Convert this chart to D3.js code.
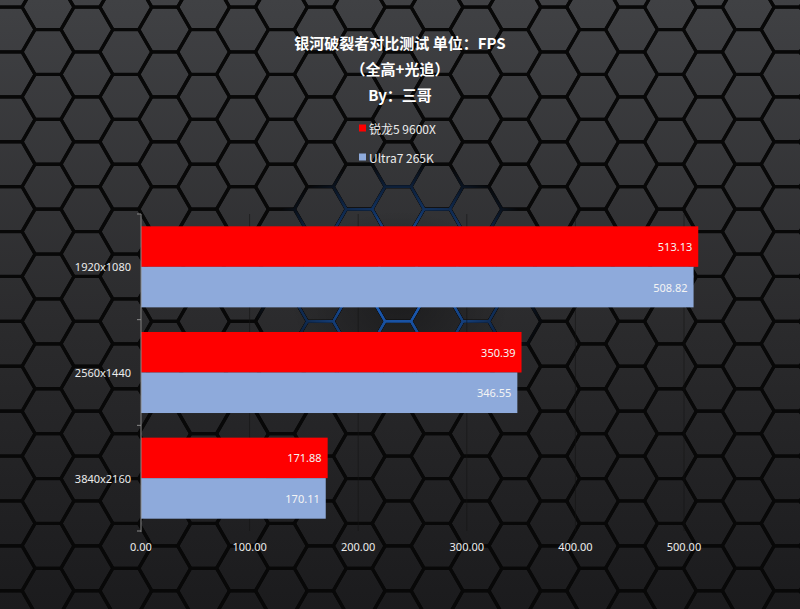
<!DOCTYPE html>
<html><head><meta charset="utf-8">
<script src="https://cdn.jsdelivr.net/npm/d3@7"></script>
<style>html,body{margin:0;padding:0;background:#222;overflow:hidden}svg{display:block}</style>
</head><body>
<svg id="c" width="800" height="609"></svg>
<script>
const categories = ["1920x1080", "2560x1440", "3840x2160"];
const seriesNames = ["锐龙5 9600X", "Ultra7 265K"];
const ryzenValues = [513.13, 350.39, 171.88];
const ultraValues = [508.82, 346.55, 170.11];
const xTicks = [0, 100, 200, 300, 400, 500];
const titleLines = ["银河破裂者对比测试 单位：FPS", "（全高+光追）", "By：三哥"];
const seriesColors = ["#ff0000", "#8eaadb"];

const W = 800, H = 609;
const svg = d3.select("#c");
const defs = svg.append("defs");

// background gradient
const bg = defs.append("linearGradient").attr("id", "bg").attr("x1", 0).attr("y1", 0).attr("x2", 0).attr("y2", 1);
bg.append("stop").attr("offset", "0%").attr("stop-color", "#404144");
bg.append("stop").attr("offset", "55%").attr("stop-color", "#2a2a2c");
bg.append("stop").attr("offset", "100%").attr("stop-color", "#1b1b1d");
svg.append("rect").attr("width", W).attr("height", H).attr("fill", "url(#bg)");

// glow mask
const rg = defs.append("radialGradient").attr("id", "glowg").attr("cx", 0.5).attr("cy", 0.5).attr("r", 0.5);
rg.append("stop").attr("offset", "0%").attr("stop-color", "#fff").attr("stop-opacity", 0.9);
rg.append("stop").attr("offset", "45%").attr("stop-color", "#fff").attr("stop-opacity", 0.55);
rg.append("stop").attr("offset", "100%").attr("stop-color", "#fff").attr("stop-opacity", 0);
const mask = defs.append("mask").attr("id", "glowmask").attr("maskUnits", "userSpaceOnUse")
  .attr("x", 0).attr("y", 0).attr("width", W).attr("height", H);
mask.append("ellipse").attr("cx", 400).attr("cy", 285).attr("rx", 150).attr("ry", 125).attr("fill", "url(#glowg)");

// center dark shade
const dg = defs.append("radialGradient").attr("id", "darkg").attr("cx", 0.5).attr("cy", 0.5).attr("r", 0.5);
dg.append("stop").attr("offset", "0%").attr("stop-color", "#000").attr("stop-opacity", 0.35);
dg.append("stop").attr("offset", "100%").attr("stop-color", "#000").attr("stop-opacity", 0);
svg.append("ellipse").attr("cx", 400).attr("cy", 300).attr("rx", 110).attr("ry", 90).attr("fill", "url(#darkg)");

// hex grid
const R = 26, dx = 38.9, dy = 44.9;
const hexCenters = [];
for (let k = -1; k <= 21; k++) {
  for (let j = -1; j <= 14; j++) {
    const cx = 48 + dx * k;
    const cy = (k % 2 === 0 ? 52 : 29.5) + dy * j;
    hexCenters.push([cx, cy]);
  }
}
function hexPath(c) {
  const pts = d3.range(6).map(i => {
    const a = Math.PI / 3 * i;
    return [c[0] + R * Math.cos(a), c[1] + R * Math.sin(a)];
  });
  return "M" + pts.map(p => p.join(",")).join("L") + "Z";
}
const hexG = svg.append("g");
hexG.selectAll("path.h").data(hexCenters).join("path").attr("class", "h")
  .attr("d", hexPath).attr("fill", "none").attr("stroke", "#080808").attr("stroke-width", 3.2);
const glowG = svg.append("g").attr("mask", "url(#glowmask)");
glowG.selectAll("path.g").data(hexCenters).join("path").attr("class", "g")
  .attr("d", hexPath).attr("fill", "none").attr("stroke", "#2278f2").attr("stroke-width", 2.4);

// scales
const x = d3.scaleLinear().domain([0, 500]).range([141, 684]);
const y = d3.scaleBand().domain(categories).range([214, 531]).paddingInner(0.233).paddingOuter(0.1165);
const ySub = d3.scaleBand().domain(seriesNames).range([0, y.bandwidth()]);

// gridlines
svg.append("g").selectAll("line").data(xTicks).join("line")
  .attr("x1", d => x(d)).attr("x2", d => x(d)).attr("y1", 214).attr("y2", 531)
  .attr("stroke", "#141414").attr("stroke-opacity", 0.55).attr("stroke-width", 1);

// bars
const rows = categories.map((c, i) => ({ cat: c, vals: [ryzenValues[i], ultraValues[i]] }));
const barG = svg.append("g");
rows.forEach(r => {
  r.vals.forEach((v, si) => {
    const by = y(r.cat) + ySub(seriesNames[si]);
    barG.append("rect").attr("x", x(0)).attr("y", by)
      .attr("width", x(v) - x(0)).attr("height", ySub.bandwidth())
      .attr("fill", seriesColors[si]);
    barG.append("text").attr("x", x(v) - 6).attr("y", by + ySub.bandwidth() / 2)
      .attr("text-anchor", "end").attr("dominant-baseline", "central")
      .attr("font-family", "Noto Sans, sans-serif").attr("font-size", 11)
      .attr("fill", "#f4f4f4").text(v.toFixed(2));
  });
});

// y axis
const step = y.step();
const bounds = [214].concat(categories.map(c => y(c) + y.bandwidth() + (step - y.bandwidth()) / 2));
const ax = svg.append("g");
ax.append("line").attr("x1", 141).attr("x2", 141).attr("y1", 214).attr("y2", 532).attr("stroke", "#8a8a8a").attr("stroke-width", 1);
ax.selectAll("line.t").data(bounds).join("line").attr("class", "t")
  .attr("x1", 137).attr("x2", 141).attr("y1", d => d).attr("y2", d => d).attr("stroke", "#8a8a8a");
ax.selectAll("text").data(categories).join("text")
  .attr("x", 131).attr("y", d => y(d) + y.bandwidth() / 2)
  .attr("text-anchor", "end").attr("dominant-baseline", "central")
  .attr("font-family", "Noto Sans, sans-serif").attr("font-size", 11).attr("fill", "#ececec").text(d => d);

// x tick labels
svg.append("g").selectAll("text").data(xTicks).join("text")
  .attr("x", d => x(d)).attr("y", 546).attr("text-anchor", "middle").attr("dominant-baseline", "central")
  .attr("font-family", "Noto Sans, sans-serif").attr("font-size", 11).attr("fill", "#ececec")
  .text(d => d.toFixed(2));

// title
const titleY = [42, 68, 94];
svg.append("g").selectAll("text").data(titleLines).join("text")
  .attr("x", 400).attr("y", (d, i) => titleY[i]).attr("text-anchor", "middle").attr("dominant-baseline", "central")
  .attr("font-family", "Noto Sans CJK SC, sans-serif").attr("font-weight", "bold").attr("font-size", 15)
  .attr("fill", "#ffffff").text(d => d);

// legend
const legY = [128, 157];
const lg = svg.append("g");
seriesNames.forEach((s, i) => {
  lg.append("rect").attr("x", 359).attr("y", legY[i] - 3.5).attr("width", 7).attr("height", 7).attr("fill", seriesColors[i]);
  lg.append("text").attr("x", 369).attr("y", legY[i]).attr("dominant-baseline", "central")
    .attr("font-family", "Noto Sans CJK SC, sans-serif").attr("font-size", 12).attr("fill", "#ececec").text(s);
});
</script>
</body></html>
